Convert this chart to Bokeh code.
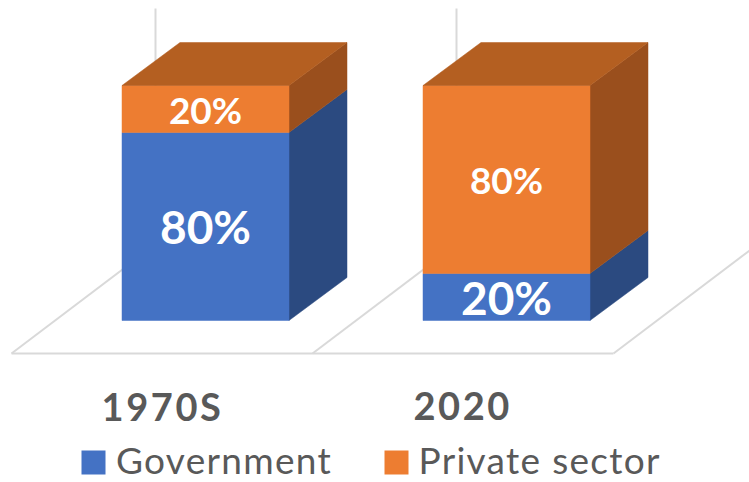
from bokeh.plotting import figure
from bokeh.models import Range1d, CustomJS
from bokeh.io import curdoc
from bokeh.core.properties import value
from bokeh.embed import file_html
from bokeh.resources import INLINE

categories = ["1970S", "2020"]
series_names = ["Government", "Private sector"]
government = [80, 20]
private_sector = [20, 80]
labels = [["80%", "20%"], ["20%", "80%"]]

FRONT = ["#4472C4", "#ED7D31"]
SIDE = ["#2B4A80", "#9A4F1D"]
TOP = "#B45F21"
GRID = "#D9D9D9"
TEXT = "#595959"

W, H = 749, 482
OX, OY = 0, 0       # picture position of the figure's corner
PX_CAT = 301.0      # pixels per category
PX_PCT = 2.35       # pixels per percent
CX0, BASE = 205.0, 320.0  # picture position of category 0 / value 0


def X(px):
    return (px - CX0) / PX_CAT


def Y(py):
    return (BASE - py) / PX_PCT


p = figure(width=W, height=H, output_backend="svg", toolbar_location=None,
           x_range=Range1d(X(OX), X(OX + W)), y_range=Range1d(Y(OY + H), Y(OY)),
           x_axis_type=None, y_axis_type=None, min_border=0, outline_line_color=None,
           background_fill_color="white", border_fill_color="white")
p.grid.visible = False

half = 83.5 / PX_CAT
dx, dy = 58 / PX_CAT, 43 / PX_PCT

# floor and back wall
floor_x0 = [11, 312, 613]
for fx in floor_x0:
    p.line([X(fx), X(fx + 144)], [Y(353), Y(353 - 109)], line_color=GRID, line_width=2)
p.line([X(11), X(613)], [Y(353), Y(353)], line_color=GRID, line_width=2)
for fx in floor_x0[:2]:
    p.line([X(fx + 144), X(fx + 144)], [Y(353 - 109), Y(8)], line_color=GRID, line_width=2)

# bars
for i in range(len(categories)):
    bottom = 0
    for s, vals in enumerate([government, private_sector]):
        top = bottom + vals[i]
        l, r = i - half, i + half
        p.patch([r, r + dx, r + dx, r], [bottom, bottom + dy, top + dy, top],
                fill_color=SIDE[s], line_color=SIDE[s], line_width=0.5)
        p.quad(left=l, right=r, bottom=bottom, top=top, fill_color=FRONT[s],
               line_color=FRONT[s], line_width=0.5)
        p.text([i], [(bottom + top) / 2], text=[labels[i][s]], text_color="white",
               text_font=value("Lato"), text_font_style="bold",
               text_font_size="46px" if s == 0 else "37px",
               text_align="center", text_baseline="middle")
        bottom = top
    p.patch([i - half, i - half + dx, i + half + dx, i + half],
            [bottom, bottom + dy, bottom + dy, bottom],
            fill_color=TOP, line_color=TOP, line_width=0.5)

# category labels
p.text([X(155.5), X(457)], [Y(405), Y(405)], text=categories, text_color=TEXT,
       text_font=value("Lato"), text_font_style="bold", text_font_size="38px",
       text_align="center", text_baseline="middle")

# legend
for s, (sq, tx) in enumerate(zip([81, 384], [115.5, 418])):
    p.quad(left=X(sq), right=X(sq + 24), bottom=Y(474), top=Y(450),
           fill_color=FRONT[s], line_color=None)
    p.text([X(tx)], [Y(458.5)], text=[series_names[s]], text_color=TEXT,
           text_font=value("Lato"), text_font_size="37px",
           text_align="left", text_baseline="middle")

# letter spacing of the wide-set labels
spacing = CustomJS(args=dict(cats=categories, names=series_names), code="""
function walk(root) {
  root.querySelectorAll('*').forEach(e => {
    if (e.shadowRoot) walk(e.shadowRoot);
    if (e.tagName.toLowerCase() === 'text') {
      if (cats.includes(e.textContent)) e.style.letterSpacing = '2.6px';
      if (names.includes(e.textContent)) e.style.letterSpacing = '1.3px';
    }
  });
}
[0, 50, 200, 500].forEach(t => setTimeout(() => walk(document), t));
""")
doc = curdoc()
doc.add_root(p)
doc.js_on_event("document_ready", spacing)

open("out.html", "w").write(file_html(p, INLINE))
